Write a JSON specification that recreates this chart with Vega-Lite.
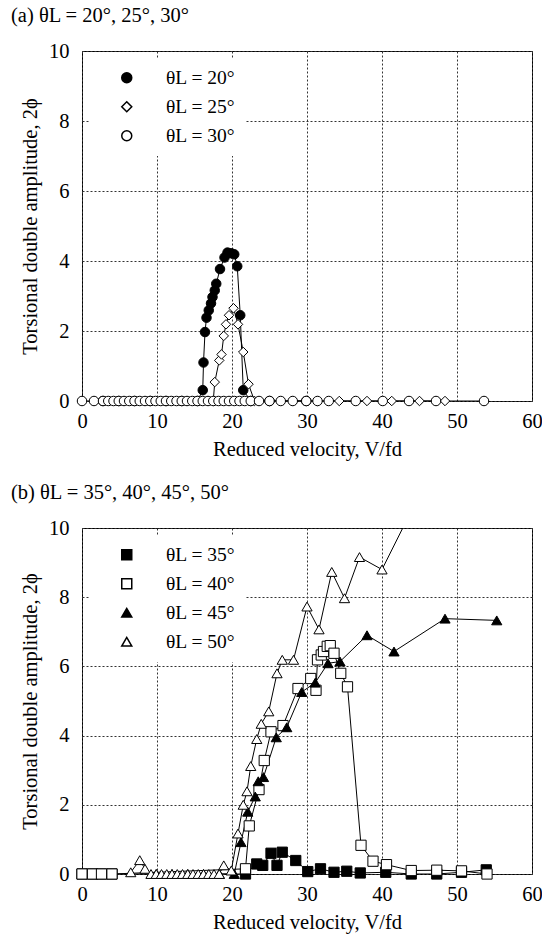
{
  "$schema": "https://vega.github.io/schema/vega-lite/v6.json",
  "padding": {"left": 10, "top": 5, "right": 0, "bottom": 5},
  "spacing": 22,
  "config": {
    "font": "Liberation Serif",
    "view": {"stroke": "black", "strokeWidth": 1},
    "axis": {"labelFont": "Liberation Serif", "labelFontSize": 20.5, "labelColor": "black", "labelFlush": false, "labelOverlap": false, "titleFont": "Liberation Serif", "titleFontSize": 20.5, "titleFontWeight": "normal", "titleColor": "black", "grid": true, "gridColor": "#333333", "gridDash": [2, 2], "gridWidth": 1, "ticks": false, "domain": false},
    "title": {"font": "Liberation Serif", "fontSize": 20.5, "fontWeight": "normal", "anchor": "start", "frame": "group", "dx": -71, "color": "black", "offset": 15},
    "legend": {"orient": "top-left", "offset": 7, "padding": 10, "fillColor": "white", "title": null, "symbolSize": 100, "symbolOffset": 18, "labelOffset": 29.5, "labelFont": "Liberation Serif", "labelFontSize": 19.5, "labelColor": "black", "rowPadding": 8}
  },
  "resolve": {"scale": {"shape": "independent", "fill": "independent"}, "legend": {"shape": "independent", "fill": "independent"}},
  "vconcat": [
    {
      "title": {"text": "(a) θL = 20°, 25°, 30°"},
      "width": 450,
      "height": 350,
      "data": {"values": [
        {"s": "θL = 20°", "v": 2.8, "amp": 0}, {"s": "θL = 20°", "v": 4.9, "amp": 0}, {"s": "θL = 20°", "v": 7.0, "amp": 0}, {"s": "θL = 20°", "v": 9.1, "amp": 0}, {"s": "θL = 20°", "v": 11.2, "amp": 0}, {"s": "θL = 20°", "v": 13.3, "amp": 0}, {"s": "θL = 20°", "v": 15.4, "amp": 0},
        {"s": "θL = 20°", "v": 16.1, "amp": 0.31}, {"s": "θL = 20°", "v": 16.2, "amp": 1.1}, {"s": "θL = 20°", "v": 16.4, "amp": 1.97}, {"s": "θL = 20°", "v": 16.6, "amp": 2.38}, {"s": "θL = 20°", "v": 16.9, "amp": 2.59}, {"s": "θL = 20°", "v": 17.2, "amp": 2.79}, {"s": "θL = 20°", "v": 17.4, "amp": 2.97}, {"s": "θL = 20°", "v": 17.7, "amp": 3.16}, {"s": "θL = 20°", "v": 17.9, "amp": 3.35}, {"s": "θL = 20°", "v": 18.4, "amp": 3.77}, {"s": "θL = 20°", "v": 19.0, "amp": 4.1}, {"s": "θL = 20°", "v": 19.4, "amp": 4.24}, {"s": "θL = 20°", "v": 19.9, "amp": 4.22}, {"s": "θL = 20°", "v": 20.3, "amp": 4.19}, {"s": "θL = 20°", "v": 20.7, "amp": 3.85}, {"s": "θL = 20°", "v": 21.1, "amp": 2.45}, {"s": "θL = 20°", "v": 21.5, "amp": 0.31}, {"s": "θL = 20°", "v": 22.5, "amp": 0}, {"s": "θL = 20°", "v": 25.0, "amp": 0}, {"s": "θL = 20°", "v": 29.9, "amp": 0},
        {"s": "θL = 25°", "v": 2.8, "amp": 0}, {"s": "θL = 25°", "v": 5.6, "amp": 0}, {"s": "θL = 25°", "v": 8.4, "amp": 0}, {"s": "θL = 25°", "v": 11.2, "amp": 0}, {"s": "θL = 25°", "v": 14.0, "amp": 0}, {"s": "θL = 25°", "v": 16.8, "amp": 0}, {"s": "θL = 25°", "v": 17.5, "amp": 0},
        {"s": "θL = 25°", "v": 17.7, "amp": 0.54}, {"s": "θL = 25°", "v": 18.3, "amp": 1.16}, {"s": "θL = 25°", "v": 18.6, "amp": 1.33}, {"s": "θL = 25°", "v": 18.9, "amp": 1.86}, {"s": "θL = 25°", "v": 19.2, "amp": 2.19}, {"s": "θL = 25°", "v": 19.6, "amp": 2.45}, {"s": "θL = 25°", "v": 20.2, "amp": 2.65}, {"s": "θL = 25°", "v": 20.8, "amp": 2.19}, {"s": "θL = 25°", "v": 21.5, "amp": 1.4}, {"s": "θL = 25°", "v": 22.2, "amp": 0.48},
        {"s": "θL = 25°", "v": 23.0, "amp": 0}, {"s": "θL = 25°", "v": 25.0, "amp": 0}, {"s": "θL = 25°", "v": 28.1, "amp": 0}, {"s": "θL = 25°", "v": 31.4, "amp": 0}, {"s": "θL = 25°", "v": 34.3, "amp": 0}, {"s": "θL = 25°", "v": 38.0, "amp": 0}, {"s": "θL = 25°", "v": 41.3, "amp": 0}, {"s": "θL = 25°", "v": 45.0, "amp": 0}, {"s": "θL = 25°", "v": 48.4, "amp": 0},
        {"s": "θL = 30°", "v": 0, "amp": 0}, {"s": "θL = 30°", "v": 1.6, "amp": 0}, {"s": "θL = 30°", "v": 2.8, "amp": 0}, {"s": "θL = 30°", "v": 3.5, "amp": 0}, {"s": "θL = 30°", "v": 4.2, "amp": 0}, {"s": "θL = 30°", "v": 4.9, "amp": 0}, {"s": "θL = 30°", "v": 5.6, "amp": 0}, {"s": "θL = 30°", "v": 6.3, "amp": 0}, {"s": "θL = 30°", "v": 7.0, "amp": 0}, {"s": "θL = 30°", "v": 7.7, "amp": 0}, {"s": "θL = 30°", "v": 8.4, "amp": 0}, {"s": "θL = 30°", "v": 9.1, "amp": 0}, {"s": "θL = 30°", "v": 9.8, "amp": 0}, {"s": "θL = 30°", "v": 10.5, "amp": 0}, {"s": "θL = 30°", "v": 11.2, "amp": 0}, {"s": "θL = 30°", "v": 11.9, "amp": 0}, {"s": "θL = 30°", "v": 12.6, "amp": 0}, {"s": "θL = 30°", "v": 13.3, "amp": 0}, {"s": "θL = 30°", "v": 14.0, "amp": 0}, {"s": "θL = 30°", "v": 14.7, "amp": 0}, {"s": "θL = 30°", "v": 15.4, "amp": 0}, {"s": "θL = 30°", "v": 16.1, "amp": 0}, {"s": "θL = 30°", "v": 16.8, "amp": 0}, {"s": "θL = 30°", "v": 17.5, "amp": 0}, {"s": "θL = 30°", "v": 18.2, "amp": 0}, {"s": "θL = 30°", "v": 18.9, "amp": 0}, {"s": "θL = 30°", "v": 19.6, "amp": 0}, {"s": "θL = 30°", "v": 20.3, "amp": 0}, {"s": "θL = 30°", "v": 21.0, "amp": 0}, {"s": "θL = 30°", "v": 21.7, "amp": 0}, {"s": "θL = 30°", "v": 22.5, "amp": 0}, {"s": "θL = 30°", "v": 23.6, "amp": 0}, {"s": "θL = 30°", "v": 25.0, "amp": 0}, {"s": "θL = 30°", "v": 26.5, "amp": 0}, {"s": "θL = 30°", "v": 28.1, "amp": 0}, {"s": "θL = 30°", "v": 29.9, "amp": 0}, {"s": "θL = 30°", "v": 31.4, "amp": 0}, {"s": "θL = 30°", "v": 32.9, "amp": 0}, {"s": "θL = 30°", "v": 36.5, "amp": 0}, {"s": "θL = 30°", "v": 40.1, "amp": 0}, {"s": "θL = 30°", "v": 43.6, "amp": 0}, {"s": "θL = 30°", "v": 47.2, "amp": 0}, {"s": "θL = 30°", "v": 53.6, "amp": 0}
      ]},
      "encoding": {
        "x": {"field": "v", "type": "quantitative", "scale": {"domain": [0, 60], "nice": false}, "axis": {"values": [0, 10, 20, 30, 40, 50, 60], "title": "Reduced velocity, V/fd", "labelPadding": 10.5, "titlePadding": 7}},
        "y": {"field": "amp", "type": "quantitative", "scale": {"domain": [0, 10], "nice": false}, "axis": {"values": [0, 2, 4, 6, 8, 10], "title": "Torsional double amplitude, 2ϕ", "labelPadding": 13, "titlePadding": 8}}
      },
      "layer": [
        {"mark": {"type": "line", "color": "black", "strokeWidth": 1, "clip": true}, "encoding": {"detail": {"field": "s"}}},
        {"mark": {"type": "point", "filled": true, "stroke": "black", "strokeWidth": 1, "opacity": 1, "size": 90},
         "encoding": {
           "shape": {"field": "s", "type": "nominal", "scale": {"domain": ["θL = 20°", "θL = 25°", "θL = 30°"], "range": ["circle", "diamond", "circle"]},
             "legend": {"encode": {"symbols": {"stroke": {"value": "black"}, "strokeWidth": {"value": 1}}}}},
           "fill": {"field": "s", "type": "nominal", "scale": {"domain": ["θL = 20°", "θL = 25°", "θL = 30°"], "range": ["black", "white", "white"]},
             "legend": {"encode": {"symbols": {"stroke": {"value": "black"}, "strokeWidth": {"value": 1}}}}}
         }}
      ]
    },
    {
      "title": {"text": "(b) θL = 35°, 40°, 45°, 50°"},
      "width": 450,
      "height": 346,
      "data": {"values": [
        {"t": "θL = 35°", "v": 0, "amp": 0}, {"t": "θL = 35°", "v": 1.4, "amp": 0}, {"t": "θL = 35°", "v": 2.6, "amp": 0}, {"t": "θL = 35°", "v": 4.0, "amp": 0}, {"t": "θL = 35°", "v": 21.8, "amp": 0}, {"t": "θL = 35°", "v": 23.3, "amp": 0.29}, {"t": "θL = 35°", "v": 24.1, "amp": 0.25}, {"t": "θL = 35°", "v": 25.2, "amp": 0.6}, {"t": "θL = 35°", "v": 26.0, "amp": 0.25}, {"t": "θL = 35°", "v": 26.7, "amp": 0.63}, {"t": "θL = 35°", "v": 28.5, "amp": 0.39}, {"t": "θL = 35°", "v": 30.1, "amp": 0.07}, {"t": "θL = 35°", "v": 31.8, "amp": 0.15}, {"t": "θL = 35°", "v": 33.6, "amp": 0.05}, {"t": "θL = 35°", "v": 35.3, "amp": 0.08}, {"t": "θL = 35°", "v": 37.1, "amp": 0.03}, {"t": "θL = 35°", "v": 40.5, "amp": 0.05}, {"t": "θL = 35°", "v": 43.9, "amp": 0}, {"t": "θL = 35°", "v": 47.3, "amp": 0}, {"t": "θL = 35°", "v": 50.6, "amp": 0.05}, {"t": "θL = 35°", "v": 53.9, "amp": 0.12},
        {"t": "θL = 40°", "v": 0, "amp": 0}, {"t": "θL = 40°", "v": 1.4, "amp": 0}, {"t": "θL = 40°", "v": 2.6, "amp": 0}, {"t": "θL = 40°", "v": 4.0, "amp": 0}, {"t": "θL = 40°", "v": 21.8, "amp": 0.15}, {"t": "θL = 40°", "v": 22.3, "amp": 1.39}, {"t": "θL = 40°", "v": 23.6, "amp": 2.44}, {"t": "θL = 40°", "v": 24.3, "amp": 3.28}, {"t": "θL = 40°", "v": 25.2, "amp": 4.11}, {"t": "θL = 40°", "v": 26.8, "amp": 4.29}, {"t": "θL = 40°", "v": 28.8, "amp": 5.36}, {"t": "θL = 40°", "v": 30.5, "amp": 5.65}, {"t": "θL = 40°", "v": 31.2, "amp": 5.31}, {"t": "θL = 40°", "v": 31.4, "amp": 6.19}, {"t": "θL = 40°", "v": 31.9, "amp": 6.33}, {"t": "θL = 40°", "v": 32.2, "amp": 6.43}, {"t": "θL = 40°", "v": 32.7, "amp": 6.58}, {"t": "θL = 40°", "v": 33.1, "amp": 6.6}, {"t": "θL = 40°", "v": 33.6, "amp": 6.38}, {"t": "θL = 40°", "v": 34.5, "amp": 5.8}, {"t": "θL = 40°", "v": 35.4, "amp": 5.41}, {"t": "θL = 40°", "v": 37.2, "amp": 0.83}, {"t": "θL = 40°", "v": 38.8, "amp": 0.37}, {"t": "θL = 40°", "v": 40.6, "amp": 0.27}, {"t": "θL = 40°", "v": 43.9, "amp": 0.1}, {"t": "θL = 40°", "v": 47.3, "amp": 0.11}, {"t": "θL = 40°", "v": 50.6, "amp": 0.09}, {"t": "θL = 40°", "v": 54.0, "amp": 0},
        {"t": "θL = 45°", "v": 9.9, "amp": 0}, {"t": "θL = 45°", "v": 12.0, "amp": 0}, {"t": "θL = 45°", "v": 14.1, "amp": 0}, {"t": "θL = 45°", "v": 16.2, "amp": 0}, {"t": "θL = 45°", "v": 18.3, "amp": 0}, {"t": "θL = 45°", "v": 20.3, "amp": 0}, {"t": "θL = 45°", "v": 21.2, "amp": 0.92}, {"t": "θL = 45°", "v": 22.1, "amp": 1.8}, {"t": "θL = 45°", "v": 23.1, "amp": 2.24}, {"t": "θL = 45°", "v": 23.5, "amp": 2.68}, {"t": "θL = 45°", "v": 24.2, "amp": 2.8}, {"t": "θL = 45°", "v": 25.9, "amp": 3.95}, {"t": "θL = 45°", "v": 27.3, "amp": 4.24}, {"t": "θL = 45°", "v": 29.3, "amp": 5.26}, {"t": "θL = 45°", "v": 31.1, "amp": 5.53}, {"t": "θL = 45°", "v": 32.8, "amp": 6.09}, {"t": "θL = 45°", "v": 34.4, "amp": 6.14}, {"t": "θL = 45°", "v": 38.0, "amp": 6.9}, {"t": "θL = 45°", "v": 41.6, "amp": 6.43}, {"t": "θL = 45°", "v": 48.4, "amp": 7.38}, {"t": "θL = 45°", "v": 55.3, "amp": 7.33},
        {"t": "θL = 50°", "v": 6.5, "amp": 0.05}, {"t": "θL = 50°", "v": 7.7, "amp": 0.4}, {"t": "θL = 50°", "v": 8.4, "amp": 0.15}, {"t": "θL = 50°", "v": 9.2, "amp": 0}, {"t": "θL = 50°", "v": 9.9, "amp": 0}, {"t": "θL = 50°", "v": 10.6, "amp": 0}, {"t": "θL = 50°", "v": 11.3, "amp": 0}, {"t": "θL = 50°", "v": 12.0, "amp": 0}, {"t": "θL = 50°", "v": 12.7, "amp": 0}, {"t": "θL = 50°", "v": 13.4, "amp": 0}, {"t": "θL = 50°", "v": 14.1, "amp": 0}, {"t": "θL = 50°", "v": 14.8, "amp": 0}, {"t": "θL = 50°", "v": 15.5, "amp": 0}, {"t": "θL = 50°", "v": 16.2, "amp": 0}, {"t": "θL = 50°", "v": 16.9, "amp": 0}, {"t": "θL = 50°", "v": 17.6, "amp": 0}, {"t": "θL = 50°", "v": 18.3, "amp": 0}, {"t": "θL = 50°", "v": 18.9, "amp": 0.25}, {"t": "θL = 50°", "v": 19.9, "amp": 0.1}, {"t": "θL = 50°", "v": 20.8, "amp": 1.17}, {"t": "θL = 50°", "v": 21.5, "amp": 2.0}, {"t": "θL = 50°", "v": 22.0, "amp": 2.39}, {"t": "θL = 50°", "v": 22.5, "amp": 3.12}, {"t": "θL = 50°", "v": 23.3, "amp": 3.9}, {"t": "θL = 50°", "v": 23.9, "amp": 4.34}, {"t": "θL = 50°", "v": 24.9, "amp": 4.7}, {"t": "θL = 50°", "v": 26.0, "amp": 5.8}, {"t": "θL = 50°", "v": 26.7, "amp": 6.19}, {"t": "θL = 50°", "v": 28.2, "amp": 6.19}, {"t": "θL = 50°", "v": 30.0, "amp": 7.73}, {"t": "θL = 50°", "v": 31.6, "amp": 7.07}, {"t": "θL = 50°", "v": 33.3, "amp": 8.73}, {"t": "θL = 50°", "v": 35.0, "amp": 7.97}, {"t": "θL = 50°", "v": 37.0, "amp": 9.16}, {"t": "θL = 50°", "v": 40.0, "amp": 8.8}, {"t": "θL = 50°", "v": 46.0, "amp": 11.4}
      ]},
      "encoding": {
        "x": {"field": "v", "type": "quantitative", "scale": {"domain": [0, 60], "nice": false}, "axis": {"values": [0, 10, 20, 30, 40, 50, 60], "title": "Reduced velocity, V/fd", "labelPadding": 10.5, "titlePadding": 7}},
        "y": {"field": "amp", "type": "quantitative", "scale": {"domain": [0, 10], "nice": false}, "axis": {"values": [0, 2, 4, 6, 8, 10], "title": "Torsional double amplitude, 2ϕ", "labelPadding": 13, "titlePadding": 8}}
      },
      "layer": [
        {"mark": {"type": "line", "color": "black", "strokeWidth": 1, "clip": true}, "encoding": {"detail": {"field": "t"}}},
        {"transform": [{"filter": "datum.amp <= 10"}],
         "mark": {"type": "point", "filled": true, "stroke": "black", "strokeWidth": 1, "opacity": 1, "size": 105},
         "encoding": {
           "shape": {"field": "t", "type": "nominal", "scale": {"domain": ["θL = 35°", "θL = 40°", "θL = 45°", "θL = 50°"], "range": ["square", "square", "triangle-up", "triangle-up"]},
             "legend": {"encode": {"symbols": {"stroke": {"value": "black"}, "strokeWidth": {"value": 1}}}}},
           "fill": {"field": "t", "type": "nominal", "scale": {"domain": ["θL = 35°", "θL = 40°", "θL = 45°", "θL = 50°"], "range": ["black", "white", "black", "white"]},
             "legend": {"encode": {"symbols": {"stroke": {"value": "black"}, "strokeWidth": {"value": 1}}}}}
         }}
      ]
    }
  ]
}
